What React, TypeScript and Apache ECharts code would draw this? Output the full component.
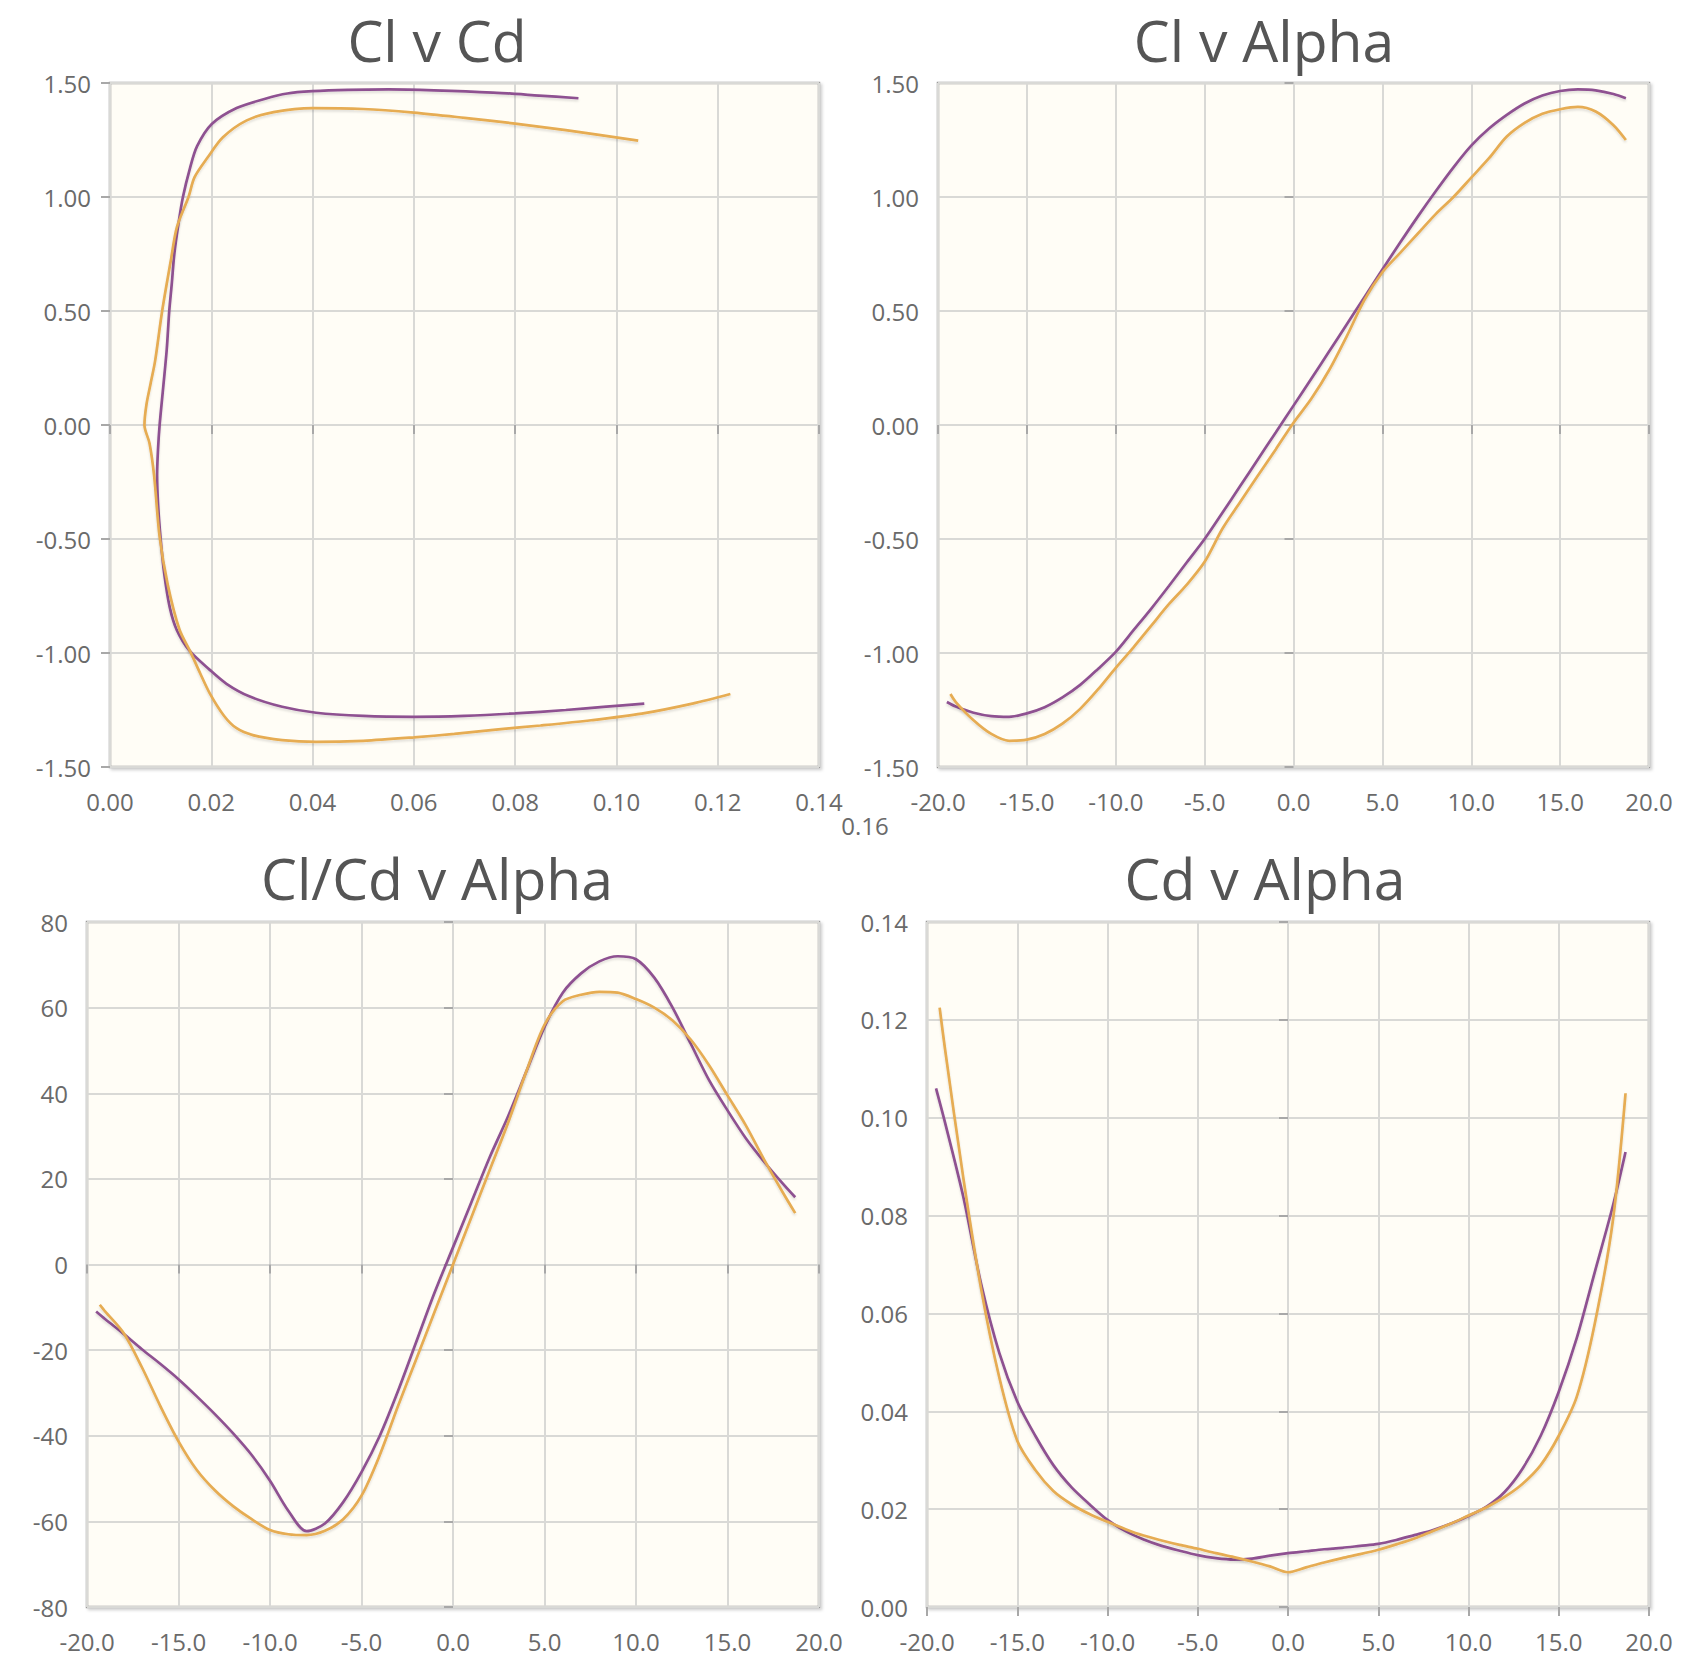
import React, { useEffect, useRef } from "react";
import * as echarts from "echarts";

// ---------- data ----------
const PURPLE = "#8e5191";
const ORANGE = "#e6ac52";

// angle of attack grid (deg)
const alphaPurple = [-19.5, -19, -18, -17, -16, -15, -14, -13, -12, -11, -10, -9, -8, -7, -6, -5, -4, -3, -2, -1, 0, 1, 2, 3, 4, 5, 6, 7, 8, 9, 10, 11, 12, 13, 14, 15, 16, 17, 18, 18.7];
const alphaOrange = [-19.3, -19, -18, -17, -16, -15, -14, -13, -12, -11, -10, -9, -8, -7, -6, -5, -4, -3, -2, -1, 0, 1, 2, 3, 4, 5, 6, 7, 8, 9, 10, 11, 12, 13, 14, 15, 16, 17, 18, 18.7];

// Cl v Alpha
const clPurple = [-1.215, -1.235, -1.262, -1.277, -1.28, -1.265, -1.238, -1.195, -1.14, -1.07, -0.995, -0.9, -0.805, -0.705, -0.602, -0.5, -0.385, -0.268, -0.15, -0.033, 0.085, 0.203, 0.322, 0.442, 0.562, 0.682, 0.8, 0.915, 1.025, 1.13, 1.225, 1.3, 1.36, 1.41, 1.445, 1.465, 1.472, 1.468, 1.452, 1.433];
const clOrange = [-1.18, -1.215, -1.295, -1.355, -1.385, -1.38, -1.355, -1.31, -1.245, -1.16, -1.065, -0.975, -0.88, -0.785, -0.7, -0.6, -0.455, -0.338, -0.222, -0.107, 0.01, 0.115, 0.24, 0.39, 0.55, 0.67, 0.755, 0.84, 0.925, 1.0, 1.085, 1.17, 1.265, 1.325, 1.365, 1.385, 1.395, 1.375, 1.315, 1.25];

// Cd v Alpha
const cdPurple = [0.106, 0.099, 0.084, 0.066, 0.052, 0.042, 0.035, 0.029, 0.0245, 0.021, 0.0178, 0.0155, 0.0138, 0.0125, 0.0115, 0.0106, 0.01, 0.0097, 0.0099, 0.0105, 0.011, 0.0114, 0.0118, 0.0121, 0.0125, 0.0129, 0.0137, 0.0147, 0.0157, 0.017, 0.0186, 0.0205, 0.0235, 0.0283, 0.035, 0.044, 0.055, 0.0685, 0.082, 0.093];
const cdOrange = [0.1225, 0.114, 0.088, 0.065, 0.047, 0.034, 0.028, 0.0237, 0.021, 0.019, 0.0174, 0.0159, 0.0146, 0.0136, 0.0127, 0.0119, 0.011, 0.0102, 0.0093, 0.0083, 0.0071, 0.0081, 0.0091, 0.01, 0.0108, 0.0117, 0.0128, 0.014, 0.0155, 0.017, 0.0187, 0.0204, 0.0225, 0.0252, 0.029, 0.035, 0.043, 0.058, 0.079, 0.105];

// Cl/Cd v Alpha
const ratioPurple = [-11.0, -12.8, -16.2, -19.8, -23.2, -26.8, -30.8, -35.0, -39.5, -44.5, -50.5, -57.5, -62.3, -60.5, -55.5, -48.5, -40.0, -29.5, -18.0, -6.5, 4.0, 14.5, 25.0, 34.5, 45.0, 55.5, 63.5, 68.0, 70.8, 72.0, 71.3, 67.0, 60.0, 51.5, 43.0, 36.0, 29.5, 24.0, 19.0, 15.7];
const ratioOrange = [-9.4, -11.0, -16.0, -24.0, -33.0, -41.3, -48.0, -52.8, -56.5, -59.5, -62.0, -63.0, -63.2, -62.2, -59.5, -54.0, -44.5, -33.0, -22.0, -11.0, 0.0, 11.0, 22.0, 33.0, 45.0, 56.0, 61.5, 63.0, 63.7, 63.5, 62.0, 60.0, 57.0, 52.5, 46.5, 39.5, 32.5, 24.5, 17.0, 12.0];

// Cl v Cd (drag polar)
const polarCdPurple = [0.1055, 0.098, 0.09, 0.08, 0.07, 0.06, 0.05, 0.0407, 0.034, 0.0275, 0.023, 0.0197, 0.0157, 0.0132, 0.0118, 0.0107, 0.01, 0.0095, 0.0093, 0.0095, 0.0098, 0.0105, 0.0112, 0.0117, 0.0122, 0.0127, 0.0135, 0.0144, 0.0158, 0.0172, 0.0201, 0.025, 0.0305, 0.035, 0.04, 0.047, 0.055, 0.064, 0.0756, 0.0847, 0.0925];
const polarClPurple = [-1.222, -1.235, -1.25, -1.265, -1.276, -1.28, -1.276, -1.262, -1.236, -1.19, -1.135, -1.074, -0.99, -0.9, -0.8, -0.65, -0.5, -0.35, -0.22, -0.1, 0.0, 0.164, 0.33, 0.5, 0.62, 0.75, 0.88, 1.0, 1.127, 1.223, 1.32, 1.39, 1.43, 1.454, 1.464, 1.47, 1.472, 1.468, 1.458, 1.445, 1.433];
const polarCdOrange = [0.1225, 0.115, 0.105, 0.095, 0.085, 0.0767, 0.068, 0.06, 0.05, 0.0407, 0.034, 0.0282, 0.025, 0.0225, 0.0197, 0.0178, 0.0159, 0.0137, 0.0114, 0.0098, 0.0087, 0.0078, 0.0068, 0.0072, 0.008, 0.0089, 0.0103, 0.012, 0.0132, 0.0155, 0.0167, 0.0193, 0.0223, 0.027, 0.0323, 0.04, 0.05, 0.06, 0.07, 0.08, 0.09, 0.1043];
const polarClOrange = [-1.18, -1.222, -1.266, -1.295, -1.318, -1.335, -1.355, -1.37, -1.385, -1.39, -1.382, -1.36, -1.33, -1.275, -1.177, -1.089, -0.996, -0.896, -0.7, -0.49, -0.22, -0.08, 0.0, 0.09, 0.18, 0.28, 0.5, 0.72, 0.867, 1.0, 1.087, 1.174, 1.262, 1.336, 1.372, 1.39, 1.386, 1.37, 1.347, 1.322, 1.293, 1.247];

const titles = ["Cl v Cd", "Cl v Alpha", "Cl/Cd v Alpha", "Cd v Alpha"];

// ---------- chart ----------
const FONT = "'Open Sans', 'Noto Sans', sans-serif";

function pairs(xs: number[], ys: number[]) {
  return xs.map((x, i) => [x, ys[i]]);
}

function axis(gridIndex: number, min: number, max: number, interval: number, digits: number, isX: boolean) {
  return {
    type: "value",
    gridIndex,
    min,
    max,
    interval,
    axisLine: { show: false },
    axisTick: { show: true, length: 9, lineStyle: { color: "#a8a8a8", width: 2 } },
    axisLabel: {
      margin: isX ? 22 : 19,
      fontSize: 24,
      fontFamily: FONT,
      color: "#6a6a6a",
      formatter: (v: number) => v.toFixed(digits),
    },
    splitLine: { show: true, lineStyle: { color: "#d9d9d6", width: 2 } },
  };
}

function line(name: string, data: number[][], color: string, idx: number) {
  return {
    name,
    type: "line",
    xAxisIndex: idx,
    yAxisIndex: idx,
    data,
    showSymbol: false,
    symbol: "none",
    smooth: 0.3,
    lineStyle: {
      color,
      width: 2.7,
      shadowColor: "rgba(0,0,0,0.12)",
      shadowBlur: 2,
      shadowOffsetY: 2,
    },
  };
}

const gridStyle = {
  show: true,
  backgroundColor: "#fffdf6",
  borderColor: "#9c9c9c",
  borderWidth: 2.5,
  shadowColor: "rgba(0,0,0,0.18)",
  shadowBlur: 3,
  shadowOffsetX: 2,
  shadowOffsetY: 2,
};

export default function App() {
  const ref = useRef<HTMLDivElement>(null);

  useEffect(() => {
    if (!ref.current) return;
    const chart = echarts.init(ref.current, undefined, { renderer: "svg" });

    const titleStyle = (text: string, x: number, y: number) => ({
      type: "text",
      x,
      y,
      silent: true,
      style: {
        text,
        fontSize: 57,
        fontFamily: FONT,
        fill: "#555555",
        align: "center",
        verticalAlign: "middle",
      },
    });

    chart.setOption({
      animation: false,
      backgroundColor: "#ffffff",
      grid: [
        { left: 110, top: 83, width: 709, height: 684, ...gridStyle },
        { left: 938, top: 83, width: 711, height: 684, ...gridStyle },
        { left: 87, top: 922, width: 732, height: 685, ...gridStyle },
        { left: 927, top: 922, width: 722, height: 685, ...gridStyle },
      ],
      xAxis: [
        axis(0, 0, 0.14, 0.02, 2, true),
        axis(1, -20, 20, 5, 1, true),
        axis(2, -20, 20, 5, 1, true),
        axis(3, -20, 20, 5, 1, true),
      ],
      yAxis: [
        axis(0, -1.5, 1.5, 0.5, 2, false),
        axis(1, -1.5, 1.5, 0.5, 2, false),
        axis(2, -80, 80, 20, 0, false),
        axis(3, 0, 0.14, 0.02, 2, false),
      ],
      series: [
        line("A", pairs(polarCdPurple, polarClPurple), PURPLE, 0),
        line("B", pairs(polarCdOrange, polarClOrange), ORANGE, 0),
        line("A", pairs(alphaPurple, clPurple), PURPLE, 1),
        line("B", pairs(alphaOrange, clOrange), ORANGE, 1),
        line("A", pairs(alphaPurple, ratioPurple), PURPLE, 2),
        line("B", pairs(alphaOrange, ratioOrange), ORANGE, 2),
        line("A", pairs(alphaPurple, cdPurple), PURPLE, 3),
        line("B", pairs(alphaOrange, cdOrange), ORANGE, 3),
      ],
      graphic: [
        titleStyle(titles[0], 437, 40),
        titleStyle(titles[1], 1264, 40),
        titleStyle(titles[2], 437, 878),
        titleStyle(titles[3], 1265, 878),
        {
          type: "text",
          x: 865,
          y: 825,
          silent: true,
          style: {
            text: "0.16",
            fontSize: 24,
            fontFamily: FONT,
            fill: "#6a6a6a",
            align: "center",
            verticalAlign: "middle",
          },
        },
      ],
    });

    return () => chart.dispose();
  }, []);

  return (
    <div
      style={{
        position: "absolute",
        left: 0,
        top: 0,
        width: 1706,
        height: 1658,
        background: "#ffffff",
      }}
    >
      <div ref={ref} style={{ width: 1706, height: 1658 }} />
    </div>
  );
}
